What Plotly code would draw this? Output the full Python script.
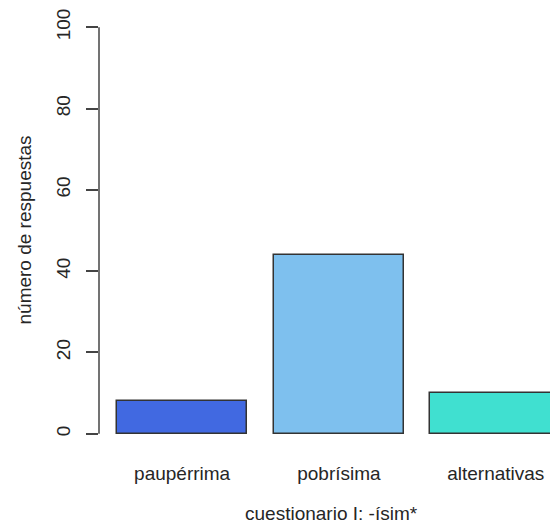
import plotly.graph_objects as go

categories = ["paupérrima", "pobrísima", "alternativas"]
values = [8, 44, 10]
bar_colors = ["#4169E1", "#7EC0EE", "#40E0D0"]
y_ticks = [0, 20, 40, 60, 80, 100]
x_title = "cuestionario I: -ísim*"
y_title = "número de respuestas"

# R barplot positions (width 1, space 0.2)
x_pos = [0.7 + 1.2 * i for i in range(len(categories))]

font_family = "Liberation Sans, Arial, sans-serif"
axis_col = "#444444"

fig = go.Figure()
fig.add_trace(go.Bar(
    x=x_pos, y=values, width=1.0,
    marker=dict(color=bar_colors, line=dict(color="#333333", width=1.5)),
    showlegend=False,
))

fig.update_layout(
    width=550, height=524,
    margin=dict(l=99, r=0, t=11, b=74, pad=0),
    paper_bgcolor="white", plot_bgcolor="white",
    font=dict(family=font_family, size=19, color="#262626"),
    xaxis=dict(
        range=[0.064, 3.515], tickvals=x_pos, ticktext=categories,
        showgrid=False, zeroline=False, showline=False, ticks="",
        tickfont=dict(size=19), ticklabelstandoff=10,
    ),
    yaxis=dict(
        range=[-4, 104], tickvals=y_ticks, ticktext=[str(v) for v in y_ticks],
        showgrid=False, zeroline=False, showline=False,
        ticks="outside", ticklen=12, tickwidth=1.5, tickcolor=axis_col,
        tickangle=-90, tickfont=dict(size=19), ticklabelstandoff=8,
    ),
    bargap=0,
)

fig.add_shape(type="line", xref="paper", yref="y", x0=0, x1=0, y0=0, y1=100,
              line=dict(color=axis_col, width=1.5))

fig.add_annotation(text=x_title, xref="x", yref="paper", x=1.84, y=0,
                   yshift=-63, showarrow=False, font=dict(size=19),
                   xanchor="center", yanchor="middle")
fig.add_annotation(text=y_title, xref="paper", yref="paper", x=0, y=0.5,
                   xshift=-75, showarrow=False, textangle=-90, font=dict(size=19),
                   xanchor="center", yanchor="middle")

fig.write_html("out.html", config={"displayModeBar": False},
               post_script="document.body.style.margin='0';")
